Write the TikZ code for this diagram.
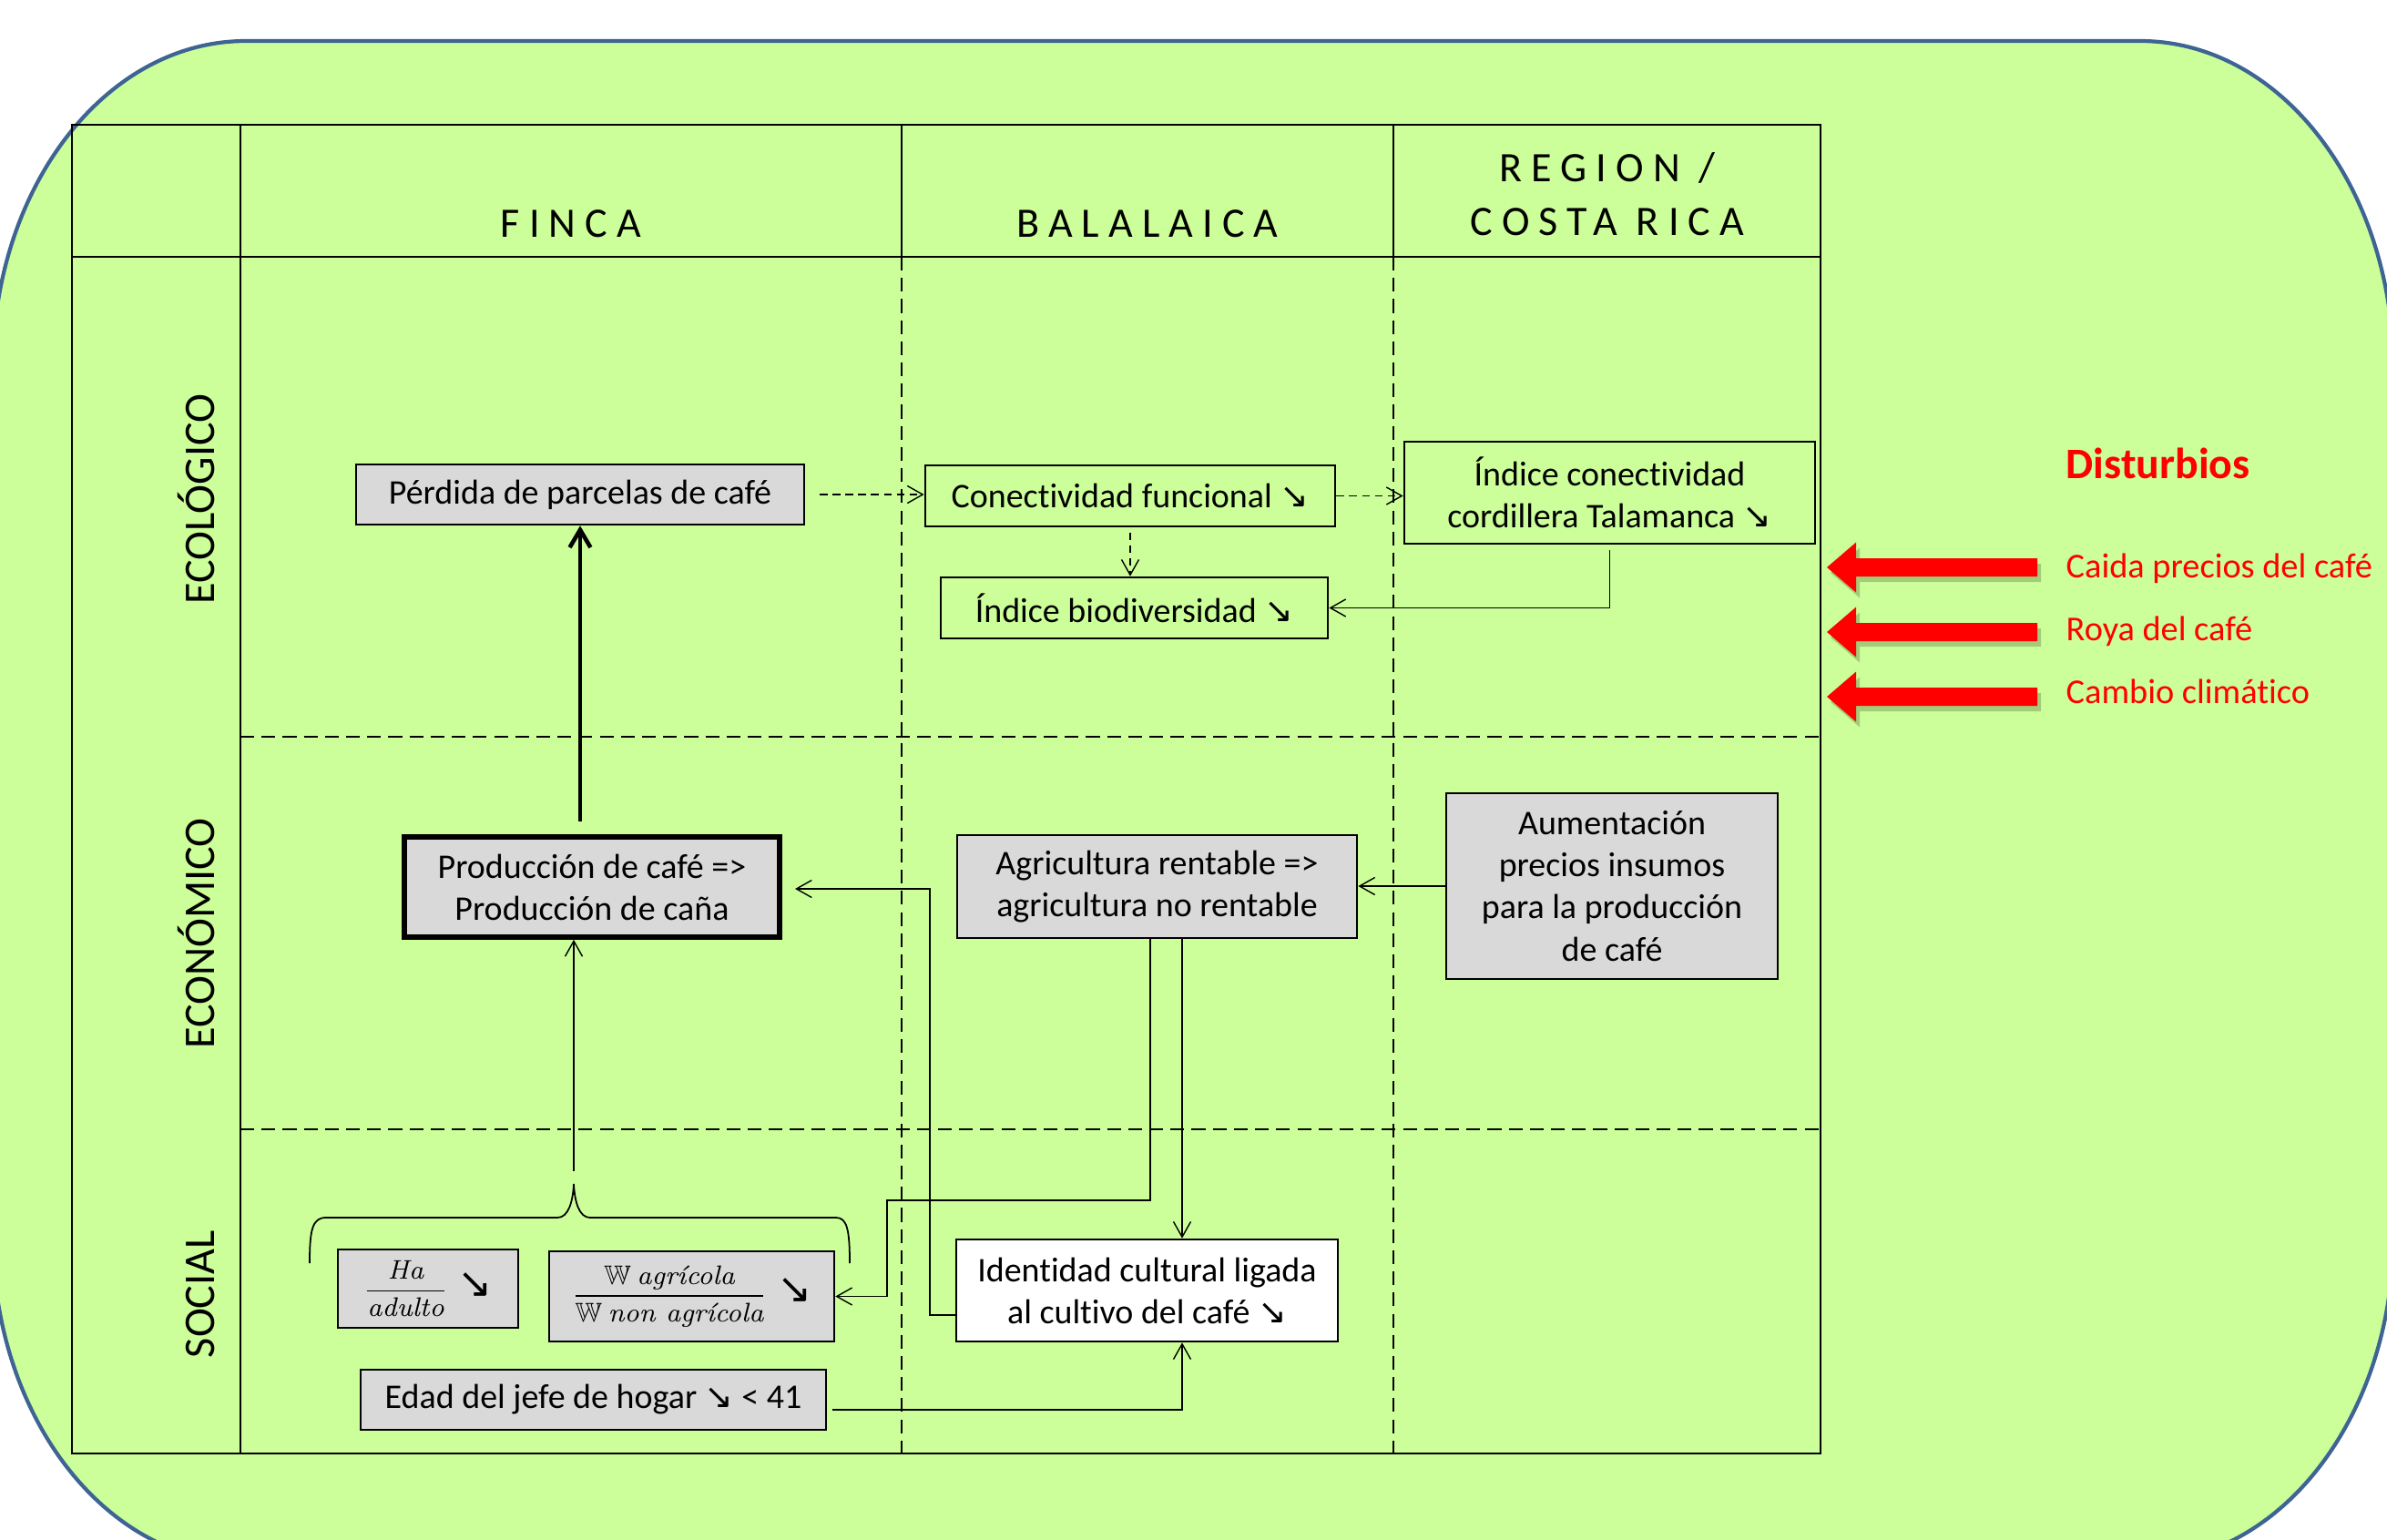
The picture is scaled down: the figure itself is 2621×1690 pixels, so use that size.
\documentclass[tikz,border=0pt]{standalone}
\usepackage{amsmath,amssymb}
\usepackage{fontspec}
\setsansfont{Carlito}[Ligatures=NoCommon]
\newfontfamily\flechafont{DejaVu Sans}
\usetikzlibrary{arrows.meta,calc}
\definecolor{fondo}{RGB}{204,255,153}
\definecolor{borde}{RGB}{62,100,148}
\definecolor{gris}{RGB}{217,217,217}
\newcommand{\baja}{{\flechafont ↘}}
\newcommand{\fcaja}{\sffamily\fontsize{10.8}{13.1}\selectfont}
\newcommand{\ffrac}{\sffamily\fontsize{8.4}{10}\selectfont}
\newcommand{\ftitulo}{\sffamily\fontsize{13.1}{17}\selectfont\addfontfeature{LetterSpace=22}}
\newcommand{\ffila}{\sffamily\fontsize{13.7}{16}\selectfont}
\newcommand{\fdist}{\sffamily\fontsize{10.9}{13}\selectfont}
\newcommand{\fdistb}{\sffamily\bfseries\fontsize{13.6}{16}\selectfont}
\tikzset{
  celda/.style = {align=center, inner sep=0pt, text centered, font=\fcaja},
  caja_g/.style = {celda, rectangle, draw=black, fill=gris, line width=0.7pt},% caja gris
  caja_v/.style = {celda, rectangle, draw=black, line width=0.7pt},% caja sin relleno
  caja_b/.style = {celda, rectangle, draw=black, fill=white, line width=0.7pt},% caja blanca
  caja_f/.style = {caja_g, line width=1.6pt},% caja gris, borde grueso
  col_t/.style = {inner sep=0pt, align=center, font=\ftitulo},% titulo de columna
  fila_t/.style = {inner sep=0pt, rotate=90, anchor=south, font=\ffila},% titulo de fila
  tabla/.style = {draw=black, line width=0.45pt},
  division/.style = {tabla, dash pattern=on 4.3pt off 2.3pt},% division punteada
  enlace/.style = {->, line width=0.4pt},
  enlace_p/.style = {enlace, dash pattern=on 2.4pt off 1.6pt},% enlace punteado
  dist/.style = {inner sep=0pt, anchor=base west, text=red, font=\fdist}% disturbios
}

\begin{document}
\begin{tikzpicture}[x=0.01cm, y=-0.01cm, >={Straight Barb[length=4.8pt,width=5.4pt]}]
\useasboundingbox (0,0) rectangle (2621,1690);
% fondo
\draw[borde, line width=1.2pt, fill=fondo] (-8,405) .. controls (-8,206) and (116,45) .. (270,45)
  -- (2350,45) .. controls (2504,45) and (2628,206) .. (2628,405)
  -- (2628,1356) .. controls (2628,1555) and (2504,1716) .. (2350,1716)
  -- (270,1716) .. controls (116,1716) and (-8,1555) .. (-8,1356) -- cycle;
% tabla
\draw[tabla] (79,137) rectangle (1999,1596);
\draw[tabla, line width=0.8pt] (79,1596) -- (1999,1596);
\draw[tabla] (264,137) -- (264,1596);
\draw[tabla] (79,282) -- (1999,282);
\foreach \x in {990,1530} {
  \draw[tabla] (\x,137) -- (\x,282);
  \draw[division] (\x,282) -- (\x,1596);
}
\foreach \y in {809,1240}
  \draw[division] (264,\y) -- (1999,\y);

\node[col_t, anchor=base] (finca) at (627,260) {FINCA};
\node[col_t, anchor=base] (balalaica) at (1260,260) {BALALAICA};
\node[col_t, anchor=south] (region) at (1765,260) {REGION /\\COSTA RICA};
\node[fila_t] (ecologico) at (237,548) {ECOLÓGICO};
\node[fila_t] (economico) at (237,1025) {ECONÓMICO};
\node[fila_t] (social) at (237,1421) {SOCIAL};

% ecologico
\node[caja_g, minimum width=4.92cm, minimum height=0.66cm] (perdida) at (637,543) {Pérdida de parcelas de café};
\node[caja_v, minimum width=4.50cm, minimum height=0.67cm] (conect) at (1241,544.5) {Conectividad funcional \baja};
\node[caja_v, minimum width=4.51cm, minimum height=1.12cm] (indcon) at (1767.5,541) {Índice conectividad\\cordillera Talamanca \baja};
\node[caja_v, minimum width=4.25cm, minimum height=0.67cm] (biodiv) at (1245.5,667.5) {Índice biodiversidad \baja};
% economico
\node[caja_f, minimum width=4.12cm, minimum height=1.10cm] (produc) at (650,974) {Producción de café =>\\Producción de caña};
\node[caja_g, minimum width=4.39cm, minimum height=1.13cm] (agric) at (1270.5,973.5) {Agricultura rentable =>\\agricultura no rentable};
\node[caja_g, minimum width=3.64cm, minimum height=2.04cm] (aument) at (1770,973) {Aumentación\\precios insumos\\para la producción\\de café};
% social
\node[caja_g, font=\ffrac, minimum width=1.98cm, minimum height=0.86cm] (haad) at (470,1415)
  {$\dfrac{\text{\rmfamily\itshape Ha}}{\text{\rmfamily\itshape adulto}}$\hspace{3pt}{\fontsize{13}{13}\flechafont ↘}};
\node[caja_g, font=\ffrac, minimum width=3.13cm, minimum height=0.99cm] (ratio) at (759.5,1423.5)
  {$\dfrac{\mathbb{W}\ \text{\rmfamily\itshape agrícola}}{\mathbb{W}\ \text{\rmfamily\itshape non agrícola}}$\hspace{3pt}{\fontsize{13}{13}\flechafont ↘}};
\node[caja_g, minimum width=5.11cm, minimum height=0.66cm] (edad) at (651.5,1537) {Edad del jefe de hogar \baja{} < 41};
\node[caja_b, minimum width=4.19cm, minimum height=1.12cm] (ident) at (1259.5,1417) {Identidad cultural ligada\\al cultivo del café \baja};

% llave
\coordinate (llave) at (630,1300);
\draw[line width=0.5pt] (340,1387) .. controls (340,1350) and (343,1337) .. (358,1337) -- (612,1337)
  .. controls (624,1337) and (629,1320) .. (llave) .. controls (631,1320) and (636,1337) .. (648,1337)
  -- (918,1337) .. controls (930,1337) and (933,1350) .. (933,1387);

% enlaces
\coordinate (bajada) at ($(agric.south)+(27.5,0)$);
\coordinate (retorno) at (1021,976);
\draw[enlace_p, shorten <=4.5pt] (perdida.east) -- (perdida.east -| conect.west);
\draw[enlace_p] (conect.east) -- (conect.east -| indcon.west);
\draw[enlace_p, shorten <=1.5pt] (conect.south) -- (conect.south |- biodiv.north);
\draw[enlace, shorten <=1.7pt] (indcon.south) |- (biodiv.east);
\draw[enlace, line width=1.3pt, >={Straight Barb[length=5.5pt,width=6.5pt]}, shorten <=4pt] (perdida.south |- produc.north) -- (perdida.south);
\draw[enlace, shorten <=4pt] (llave) -- (llave |- produc.south);
\draw[enlace] (aument.west) -- (aument.west -| agric.east);
\draw[enlace] (bajada) -- (bajada |- ident.north);
\draw[enlace] ($(agric.south)+(-7.5,0)$) |- (974,1318) |- (ratio.east);
\draw[enlace, shorten >=4pt] ($(ident.west)+(0,27)$) -| (retorno) -- (retorno -| produc.east);
\draw[enlace, shorten <=1.5pt] ($(edad.east)+(0,11)$) -| (bajada |- ident.south);

% disturbios
\node[dist, font=\fdistb] (disturbios) at (2268,525) {Disturbios};
\node[dist] (caida) at (2268,634) {Caida precios del café};
\node[dist] (roya) at (2268,703) {Roya del café};
\node[dist] (cambio) at (2268,772) {Cambio climático};
\foreach \c in {623,694,765} {
  \fill[black, opacity=0.2, shift={(4,6)}] (2006,\c) -- ++(32,-27.5) -- ++(0,17.5) -- ++(199,0) -- ++(0,20) -- ++(-199,0) -- ++(0,17.5) -- cycle;
  \fill[red] (2006,\c) -- ++(32,-27.5) -- ++(0,17.5) -- ++(199,0) -- ++(0,20) -- ++(-199,0) -- ++(0,17.5) -- cycle;
}
\end{tikzpicture}
\end{document}
